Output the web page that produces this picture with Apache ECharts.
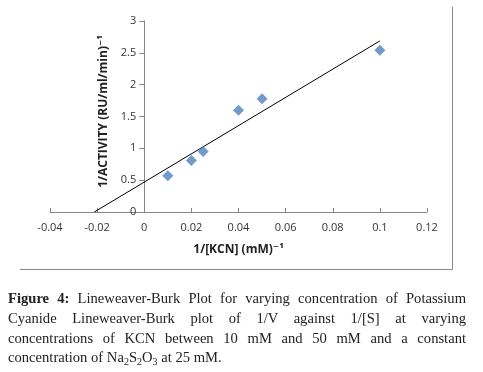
<!DOCTYPE html>
<html><head><meta charset="utf-8">
<script src="https://cdn.jsdelivr.net/npm/echarts@6/dist/echarts.min.js"></script>
<style>
html,body{margin:0;padding:0;background:#fff;}
#c{position:absolute;left:0;top:0;width:483px;height:372px;}
#cap{position:absolute;left:8px;top:289px;width:458px;font-family:"Liberation Serif","DejaVu Serif",serif;font-size:14.6px;line-height:19.8px;color:#222;}
#cap div{text-align:justify;text-align-last:justify;white-space:nowrap;}
#cap div.last{text-align-last:left;}
#cap sub{font-size:10px;line-height:0;vertical-align:-3px;}
</style></head><body>
<div id="c"></div>
<div id="cap">
<div><b>Figure 4:</b> Lineweaver-Burk Plot for varying concentration of Potassium</div>
<div>Cyanide Lineweaver-Burk plot of 1/V against 1/[S] at varying</div>
<div>concentrations of KCN between 10 mM and 50 mM and a constant</div>
<div class="last">concentration of Na<sub>2</sub>S<sub>2</sub>O<sub>3</sub> at 25 mM.</div>
</div>
<script>
var xValues = [0.01, 0.02, 0.025, 0.04, 0.05, 0.1];
var yValues = [0.57, 0.81, 0.95, 1.60, 1.78, 2.54];
var trendX = [-0.0212, 0.1];
var trendY = [0, 2.687];
var xTicks = [-0.04, -0.02, 0, 0.02, 0.04, 0.06, 0.08, 0.1, 0.12];
var yTicks = [0, 0.5, 1, 1.5, 2, 2.5, 3];

var pts = xValues.map(function(x,i){return [x, yValues[i]];});
var trend = trendX.map(function(x,i){return [x, trendY[i]];});
var chart = echarts.init(document.getElementById('c'));
var lab = {color:'#333', fontSize:11, fontFamily:'"Open Sans","DejaVu Sans",sans-serif'};
chart.setOption({
  animation:false,
  grid:{left:50,right:56,top:21,bottom:160,outerBoundsMode:'none',containLabel:false},
  xAxis:{type:'value',min:-0.04,max:0.12,interval:0.02,
    name:'1/[KCN] (mM)\u207B\u00B9',nameLocation:'middle',nameGap:32,
    nameTextStyle:{fontWeight:'bold',fontSize:12,color:'#222',fontFamily:'"Open Sans","DejaVu Sans",sans-serif'},
    axisLine:{onZero:true,lineStyle:{color:'#868686'}},
    axisTick:{show:true,inside:true,length:4,lineStyle:{color:'#868686'}},
    splitLine:{show:false},
    axisLabel:Object.assign({margin:10,formatter:function(v){return String(+v.toFixed(2));}},lab)},
  yAxis:{type:'value',min:0,max:3,interval:0.5,position:'left',offset:-94.25,
    name:'1/ACTIVITY (RU/ml/min)\u207B\u00B9',nameLocation:'middle',nameGap:34,
    nameTextStyle:{fontWeight:'bold',fontSize:12,color:'#222',fontFamily:'"Open Sans","DejaVu Sans",sans-serif',padding:[0,0,0,10]},
    axisLine:{show:true,onZero:false,lineStyle:{color:'#868686'}},
    axisTick:{show:true,length:5,lineStyle:{color:'#868686'}},
    splitLine:{show:false},
    axisLabel:Object.assign({margin:8},lab)},
  series:[
    {type:'line',data:trend,symbol:'none',lineStyle:{color:'#000',width:1},z:1},
    {type:'scatter',data:pts,symbol:'diamond',symbolSize:11,itemStyle:{color:'#4F81BD'},z:2}
  ],
  graphic:[
    {type:'line',shape:{x1:452.5,y1:7,x2:452.5,y2:269.5},style:{stroke:'#888',lineWidth:1}},
    {type:'line',shape:{x1:20,y1:269.5,x2:452.5,y2:269.5},style:{stroke:'#888',lineWidth:1}}
  ]
});
</script>
</body></html>
